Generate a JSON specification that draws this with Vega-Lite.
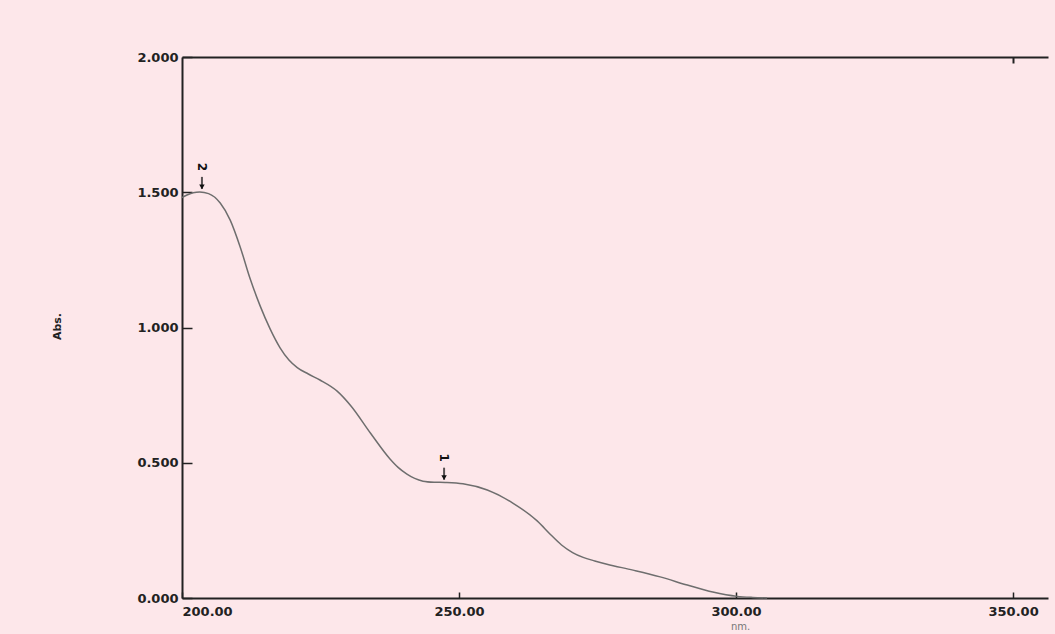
{
  "$schema": "https://vega.github.io/schema/vega-lite/v6.json",
  "width": 866,
  "height": 541,
  "autosize": {"type": "none"},
  "padding": {"left": 182, "top": 57, "right": 7, "bottom": 36},
  "background": "#fde7ea",
  "config": {
    "view": {"stroke": null},
    "axis": {"labelFont": "DejaVu Sans", "titleFont": "DejaVu Sans", "domainColor": "#222222", "tickColor": "#222222", "labelColor": "#222222", "titleColor": "#222222", "grid": false}
  },
  "datasets": {
    "spectrum": [
      {"nm": 200.0, "abs": 1.48},
      {"nm": 200.9, "abs": 1.49},
      {"nm": 202.0, "abs": 1.498},
      {"nm": 203.2, "abs": 1.501},
      {"nm": 204.8, "abs": 1.495},
      {"nm": 206.9, "abs": 1.46},
      {"nm": 208.7, "abs": 1.397},
      {"nm": 210.5, "abs": 1.298},
      {"nm": 212.3, "abs": 1.18},
      {"nm": 214.1, "abs": 1.08},
      {"nm": 215.9, "abs": 0.995},
      {"nm": 217.7, "abs": 0.925},
      {"nm": 219.3, "abs": 0.88},
      {"nm": 220.8, "abs": 0.852},
      {"nm": 222.8, "abs": 0.828},
      {"nm": 224.9, "abs": 0.806},
      {"nm": 228.0, "abs": 0.765},
      {"nm": 230.5, "abs": 0.71},
      {"nm": 234.0, "abs": 0.61},
      {"nm": 237.5, "abs": 0.515},
      {"nm": 239.0, "abs": 0.483},
      {"nm": 240.6, "abs": 0.458},
      {"nm": 242.0, "abs": 0.442},
      {"nm": 243.5, "abs": 0.432},
      {"nm": 245.5, "abs": 0.428},
      {"nm": 247.5, "abs": 0.427},
      {"nm": 250.7, "abs": 0.422},
      {"nm": 255.1, "abs": 0.399},
      {"nm": 259.7, "abs": 0.351},
      {"nm": 264.1, "abs": 0.285},
      {"nm": 266.5, "abs": 0.235},
      {"nm": 268.5, "abs": 0.196},
      {"nm": 270.5, "abs": 0.168},
      {"nm": 272.4, "abs": 0.15},
      {"nm": 274.5, "abs": 0.137},
      {"nm": 276.7, "abs": 0.125},
      {"nm": 281.4, "abs": 0.103},
      {"nm": 286.3, "abs": 0.078},
      {"nm": 291.2, "abs": 0.048},
      {"nm": 295.8, "abs": 0.022},
      {"nm": 300.2, "abs": 0.006},
      {"nm": 303.0, "abs": 0.002},
      {"nm": 305.6, "abs": 0.0}
    ],
    "peaks": [
      {"nm": 203.6, "abs": 1.505, "label": "2"},
      {"nm": 247.3, "abs": 0.43, "label": "1"}
    ]
  },
  "layer": [
    {
      "data": {"name": "spectrum"},
      "mark": {"type": "line", "color": "#6e6e6e", "strokeWidth": 1.5, "interpolate": "monotone"},
      "encoding": {
        "x": {
          "field": "nm", "type": "quantitative",
          "scale": {"domain": [200, 356.3], "nice": false, "zero": false},
          "axis": {
            "values": [200, 250, 300, 350], "format": ".2f",
            "tickSize": -6, "tickWidth": 1.5, "domainWidth": 2,
            "labelFontSize": 13, "labelFontWeight": "bold", "labelPadding": 13, "labelDx": -4,
            "title": "nm.", "titleFontSize": 10, "titleFontWeight": "normal", "titleColor": "#777777",
            "titleX": 558, "titleY": 23, "titleAnchor": "middle"
          }
        },
        "y": {
          "field": "abs", "type": "quantitative",
          "scale": {"domain": [0, 2], "nice": false},
          "axis": {
            "values": [0, 0.5, 1, 1.5, 2], "format": ".3f",
            "tickSize": -10, "tickWidth": 1.5, "domainWidth": 2,
            "labelFontSize": 13, "labelFontWeight": "bold", "labelPadding": 14,
            "title": "Abs.", "titleFontSize": 11, "titleFontWeight": "bold",
            "titleX": -120, "titleY": 269, "titleAnchor": "middle"
          }
        }
      }
    },
    {
      "data": {"name": "spectrum"},
      "mark": {"type": "line", "opacity": 0},
      "encoding": {
        "x": {
          "field": "nm", "type": "quantitative",
          "axis": {"orient": "top", "values": [350], "labels": false, "tickSize": -6, "tickWidth": 2, "domainWidth": 2, "title": null}
        },
        "y": {"field": "abs", "type": "quantitative"}
      }
    },
    {
      "data": {"name": "peaks"},
      "mark": {"type": "tick", "orient": "vertical", "color": "#111111", "size": 12, "thickness": 2, "yOffset": -8},
      "encoding": {
        "x": {"field": "nm", "type": "quantitative", "axis": null},
        "y": {"field": "abs", "type": "quantitative"}
      }
    },
    {
      "data": {"name": "peaks"},
      "mark": {"type": "point", "shape": "triangle-down", "filled": true, "color": "#111111", "size": 30, "yOffset": -4, "opacity": 1},
      "encoding": {
        "x": {"field": "nm", "type": "quantitative", "axis": null},
        "y": {"field": "abs", "type": "quantitative"}
      }
    },
    {
      "data": {"name": "peaks"},
      "mark": {"type": "text", "angle": 90, "font": "DejaVu Sans", "fontSize": 12, "fontWeight": "bold", "color": "#111111", "yOffset": -24},
      "encoding": {
        "x": {"field": "nm", "type": "quantitative", "axis": null},
        "y": {"field": "abs", "type": "quantitative"},
        "text": {"field": "label"}
      }
    }
  ],
  "resolve": {"axis": {"x": "independent"}}
}
